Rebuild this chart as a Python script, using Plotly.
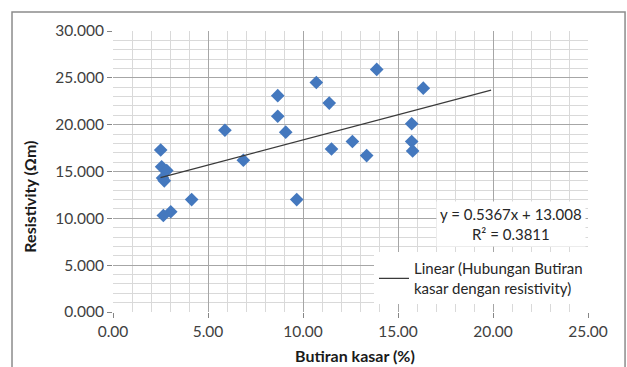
import plotly.graph_objects as go

# Coarse-grain fraction (%) vs. measured resistivity (Ohm m)
butiran_kasar = [2.51, 2.56, 2.83, 2.61, 2.70, 4.14, 2.65, 3.04, 5.89, 6.86,
                 8.67, 8.67, 9.09, 9.67, 10.70, 11.38, 13.88, 16.33, 11.50,
                 12.60, 13.35, 15.72, 15.72, 15.77]
resistivity = [17.3, 15.5, 15.1, 14.3, 14.0, 12.0, 10.3, 10.7, 19.4, 16.2,
               23.1, 20.9, 19.2, 12.0, 24.5, 22.3, 25.9, 23.9, 17.4,
               18.2, 16.7, 20.1, 18.2, 17.2]

# Linear trendline coefficients
slope = 0.5367
intercept = 13.008
r_squared = 0.3811
trend_x = [2.5, 19.9]

x_ticks = [0, 5, 10, 15, 20, 25]
y_ticks = [0, 5, 10, 15, 20, 25, 30]

x_title = "Butiran kasar (%)"
y_title = "Resistivity (Ωm)"

FONT = "Lato, 'Open Sans', sans-serif"
TEXT = "#404040"

fig = go.Figure()

fig.add_trace(go.Scatter(
    x=butiran_kasar, y=resistivity, mode="markers",
    marker=dict(symbol="diamond", size=10.5, color="#4478be",
                line=dict(width=0)),
    name="Hubungan Butiran kasar dengan resistivity",
    showlegend=False,
))

fig.add_trace(go.Scatter(
    x=trend_x, y=[slope * v + intercept for v in trend_x],
    mode="lines", line=dict(color="#3a3a3a", width=1.2),
    name="Linear (Hubungan Butiran<br>kasar dengan resistivity)",
    showlegend=True,
))

axis_common = dict(
    showline=False, zeroline=False, automargin=False,
    gridcolor="#a6a6a6", gridwidth=1,
    ticks="outside", ticklen=5, tickcolor="#868686",
    tickfont=dict(family=FONT, size=15.5, color=TEXT),
    minor=dict(dtick=1, showgrid=True, gridcolor="#d9d9d9", gridwidth=1),
)

fig.update_xaxes(
    range=[0, 25], tickvals=x_ticks,
    ticktext=[f"{v:.2f}" for v in x_ticks],
    **axis_common,
)
fig.update_yaxes(
    range=[0, 30], tickvals=y_ticks,
    ticktext=[f"{v:.3f}" for v in y_ticks],
    **axis_common,
)

# Axis titles
fig.add_annotation(
    xref="paper", yref="paper", x=0.51, y=-0.155,
    xanchor="center", yanchor="middle", showarrow=False,
    text=f"<b>{x_title}</b>",
    font=dict(family=FONT, size=16, color="#1a1a1a"),
)
fig.add_annotation(
    xref="paper", yref="paper", x=-0.175, y=0.41,
    xanchor="center", yanchor="middle", showarrow=False, textangle=-90,
    text=f"<b>{y_title}</b>",
    font=dict(family=FONT, size=16, color="#1a1a1a"),
)

fig.add_annotation(
    xref="paper", yref="paper", x=0.995, y=0.312,
    xanchor="right", yanchor="middle", align="center",
    text=f"y = {slope}x + {intercept:.3f}<br>R² = {r_squared}",
    showarrow=False, bgcolor="white", borderpad=3,
    font=dict(family=FONT, size=15, color="#262626"),
)

# Chart-area border
fig.add_shape(type="rect", xref="paper", yref="paper",
              x0=-0.2126, x1=1.078, y0=-0.25, y1=1.068,
              line=dict(color="#8c8c8c", width=1.5), layer="below")

fig.update_layout(
    width=627, height=367,
    margin=dict(l=113, r=39, t=31, b=55),
    paper_bgcolor="white", plot_bgcolor="white",
    font=dict(family=FONT, color=TEXT),
    legend=dict(x=1.0, y=0.12, xanchor="right", yanchor="middle",
                bgcolor="white", borderwidth=0,
                font=dict(family=FONT, size=15, color="#262626")),
)

fig.write_html("out.html")
